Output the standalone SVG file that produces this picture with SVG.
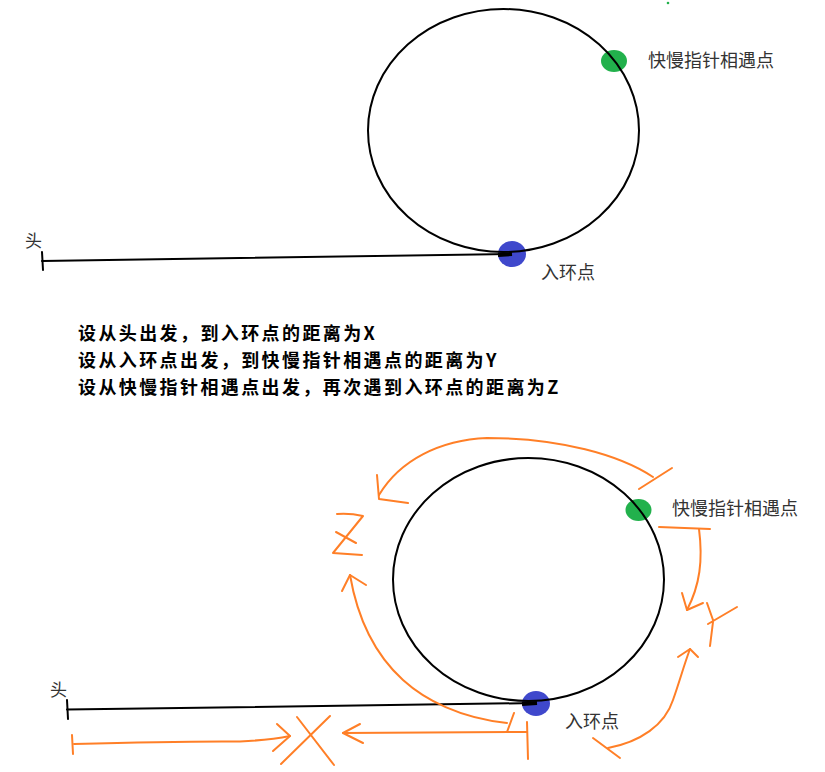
<svg xmlns="http://www.w3.org/2000/svg" width="825" height="772" viewBox="0 0 825 772">
<defs>
<style>
.ring{fill:none;stroke:#000;stroke-width:2}
.blk{fill:none;stroke:#000;stroke-width:2;stroke-linecap:round}
.thick{fill:none;stroke:#000;stroke-width:4}
.org{fill:none;stroke:#ff7f27;stroke-width:2;stroke-linecap:round;stroke-linejoin:round}
.lbl{font-family:"Noto Sans CJK SC","Noto Sans",sans-serif;font-size:18px;fill:#333}
.head{font-family:"Noto Sans CJK SC","Noto Sans",sans-serif;font-size:17px;fill:#333}
.desc{font-family:"Noto Sans CJK SC","Noto Sans",sans-serif;font-size:18px;letter-spacing:2.4px;font-weight:bold;fill:#000}
</style>
</defs>
<rect width="825" height="772" fill="#fff"/>
<circle cx="668" cy="3" r="1.3" fill="#22b14c"/>

<g id="top-list">
  <path class="blk" d="M42,261 L512,254"/>
  <path class="blk" d="M42,252 L43,270"/>
  <text class="head" x="25" y="247">头</text>
</g>
<g id="top-meet">
  <ellipse cx="614" cy="61" rx="13" ry="11" fill="#22b14c"/>
  <text class="lbl" x="648" y="67">快慢指针相遇点</text>
</g>
<g id="top-entry">
  <ellipse cx="512" cy="254" rx="14" ry="13" fill="#3f48cc"/>
  <path class="thick" d="M498,255 L512,254"/>
  <text class="lbl" x="541" y="279">入环点</text>
</g>
<g id="top-ring">
  <ellipse class="ring" cx="503.5" cy="130.5" rx="135.5" ry="121.5"/>
</g>

<g id="description">
  <text class="desc" x="78" y="340">设从头出发，到入环点的距离为X</text>
  <text class="desc" x="78" y="366.5">设从入环点出发，到快慢指针相遇点的距离为Y</text>
  <text class="desc" x="78" y="394">设从快慢指针相遇点出发，再次遇到入环点的距离为Z</text>
</g>

<g id="bottom-list">
  <path class="blk" d="M67,709.5 L536,703"/>
  <path class="blk" d="M67,700 L68,719"/>
  <text class="head" x="50" y="696">头</text>
</g>
<g id="bottom-meet">
  <ellipse cx="638.5" cy="510" rx="13" ry="11" fill="#22b14c"/>
  <text class="lbl" x="672" y="515">快慢指针相遇点</text>
</g>
<g id="bottom-entry">
  <ellipse cx="536" cy="703.5" rx="14" ry="12.5" fill="#3f48cc"/>
  <path class="thick" d="M522,704 L537,703"/>
  <text class="lbl" x="565" y="728">入环点</text>
</g>
<g id="bottom-ring">
  <ellipse class="ring" cx="528.5" cy="579.5" rx="135.5" ry="121.5"/>
</g>

<g id="connectors">
  <!-- X: head to entry -->
  <path class="org" d="M72,735 L73,754"/>
  <path class="org" d="M74,744 Q180,741 240,741.5 Q270,740 290,736"/>
  <path class="org" d="M277,724 L290,736 L273,751"/>
  <!-- X: entry back to X -->
  <path class="org" d="M527,722 L528,759"/>
  <path class="org" d="M527,732 L343,733"/>
  <path class="org" d="M360,724 L343,733 L363,743"/>
  <!-- X letter -->
  <path class="org" d="M297,717 L334,765 M330,716 L281,764"/>
  <!-- Z: meet to left around top -->
  <path class="org" d="M639,489 L672,468"/>
  <path class="org" d="M653,477 C620,455 560,438 487,438 C440,440 400,460 379,495"/>
  <path class="org" d="M377,475 L379,499 L408,503"/>
  <!-- Z: entry up left side -->
  <path class="org" d="M507,723 C460,718 425,700 403,680 C370,650 356,610 350,575"/>
  <path class="org" d="M514,713 L507,732"/>
  <path class="org" d="M342,591 L350,575 L366,585"/>
  <!-- Z letter -->
  <path class="org" d="M337,514 Q350,513 363,516 L333,553 L362,555 M336,532 L356,543"/>
  <!-- Y: meet down right side -->
  <path class="org" d="M659,527 L710,529"/>
  <path class="org" d="M699,529 C703,560 700,585 687,610"/>
  <path class="org" d="M682,593 L687,610 L703,603"/>
  <!-- Y letter -->
  <path class="org" d="M707,603 L713,620 M737,607 L708,624 M713,622 L710,646"/>
  <!-- Y: entry up right side -->
  <path class="org" d="M593,738 L620,758"/>
  <path class="org" d="M608,748 C640,742 665,725 673,700 C680,680 684,665 690,649"/>
  <path class="org" d="M678,657 L690,649 L698,657"/>
</g>
</svg>
